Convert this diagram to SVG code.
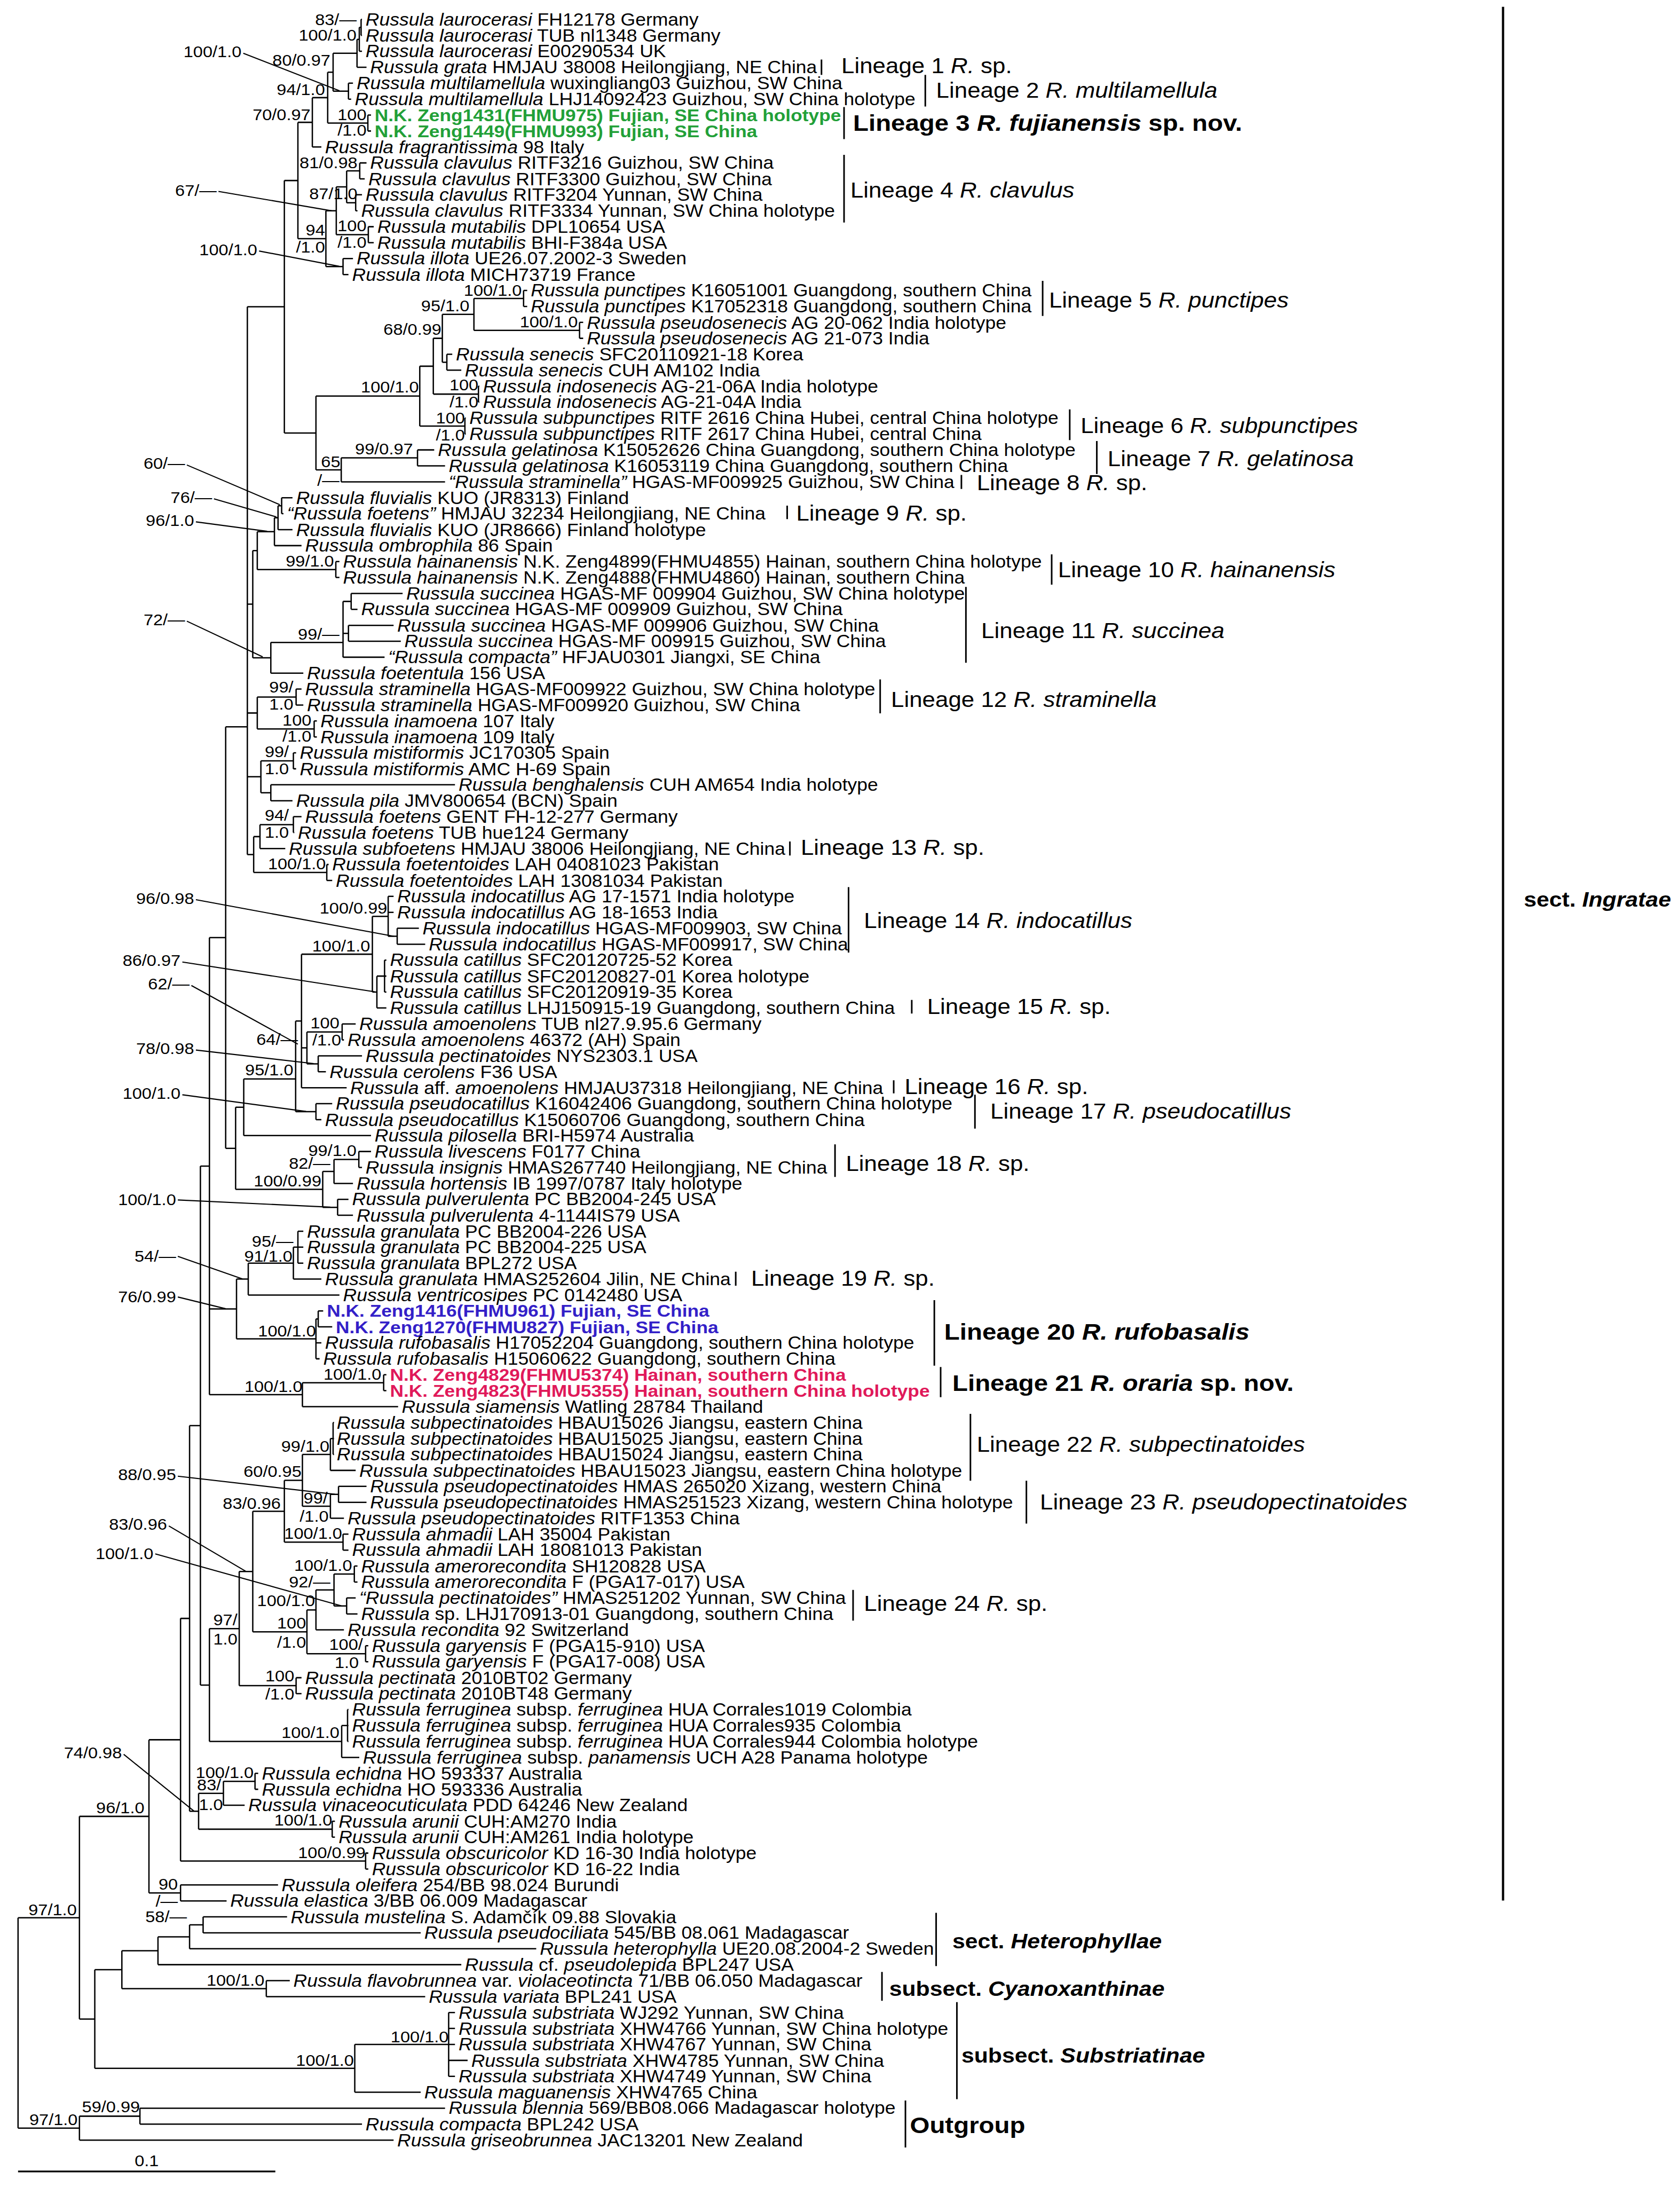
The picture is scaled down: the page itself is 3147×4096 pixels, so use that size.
<svg xmlns="http://www.w3.org/2000/svg" width="3147" height="4096" viewBox="0 0 3147 4096">
<style>
text{font-family:"Liberation Sans",Arial,sans-serif;fill:#000}
.lf{font-size:38.2px}
.i{font-style:italic}
.s{font-size:35px;text-anchor:end}
.ln{font-size:47.2px}
.lb{font-size:51px;font-weight:bold}
.sc{font-size:46px;font-weight:bold}
.cg{font-size:38px;font-weight:bold;fill:#22a038}
.cb{font-size:38px;font-weight:bold;fill:#3320c8}
.cp{font-size:38px;font-weight:bold;fill:#e0195a}
.br{fill:none;stroke:#000;stroke-width:3}
.pt{fill:none;stroke:#000;stroke-width:2.5}
.bar{fill:none;stroke:#000;stroke-width:3.5}
</style>
<rect width="3147" height="4096" fill="#fff"/>
<g transform="scale(0.8455)">
<g id="connectors" class="br">
<path d="M800,43V78.3M800,43H802M800,78.3H802M796,60.7V113.6M796,60.7H800M796,113.6H802M791,87.2V149M791,87.2H796M791,149H812M772,184.3V219.6M772,184.3H782M772,219.6H778M738,118.1V202M738,118.1H791M738,202H772M815,254.9V290.2M815,254.9H822M815,290.2H822M726,160V272.6M726,160H738M726,272.6H815M692,216.3V325.6M692,216.3H726M692,325.6H712M797,360.9V396.2M797,360.9H812M797,396.2H808M788,431.5V466.8M788,431.5H802M788,466.8H792M768,378.6V449.2M768,378.6H797M768,449.2H788M816,502.2V537.5M816,502.2H828M816,537.5H828M745,413.9V519.9M745,413.9H768M745,519.9H816M760,572.8V608.1M760,572.8H782M760,608.1H772M722,466.9V590.5M722,466.9H745M722,590.5H760M660,271V528.7M660,271H692M660,528.7H722"/>
<path d="M1160,643.4V678.8M1160,643.4H1168M1160,678.8H1168M1284,714.1V749.4M1284,714.1H1292M1284,749.4H1292M1050,661.1V731.8M1050,661.1H1160M1050,731.8H1284M990,784.7V820M990,784.7H1002M990,820H1022M980,696.4V802.4M980,696.4H1050M980,802.4H990M1060,855.4V890.7M1060,855.4H1062M1060,890.7H1062M960,749.4V873M960,749.4H980M960,873H1060M1030,926V961.3M1030,926H1032M1030,961.3H1032M930,811.2V943.7M930,811.2H960M930,943.7H1030M925,996.6V1032M925,996.6H962M925,1032H986M756,1014.3V1067.3M756,1014.3H925M756,1067.3H986M700,877.4V1040.8M700,877.4H930M700,1040.8H756M630,399.9V959.1M630,399.9H660M630,959.1H700"/>
<path d="M548,679.5V1892.9M548,679.5H630M548,1338.3H560M548,1579.4H570M548,1720.7H578M548,1892.9H562M624,1102.6V1137.9M624,1102.6H648M624,1137.9H628M616,1120.3V1173.2M616,1120.3H624M616,1173.2H648M608,1146.8V1208.6M608,1146.8H616M608,1208.6H668M744,1243.9V1279.2M744,1243.9H752M744,1279.2H752M570,1177.7V1261.6M570,1177.7H608M570,1261.6H744M778,1314.5V1349.8M778,1314.5H892M778,1349.8H792M772,1385.2V1420.5M772,1385.2H872M772,1420.5H888M760,1332.2V1455.8M760,1332.2H778M760,1402.9H772M760,1455.8H852M600,1423V1491.1M600,1423H760M600,1491.1H672M560,1219.6V1457M560,1219.6H570M560,1457H600M656,1526.4V1561.8M656,1526.4H668M656,1561.8H672M696,1597.1V1632.4M696,1597.1H702M696,1632.4H702M570,1544.1V1614.8M570,1544.1H656M570,1614.8H696M650,1667.7V1703M650,1667.7H656M650,1703H656M600,1738.4V1773.7M600,1738.4H1008M600,1773.7H648M578,1685.4V1756M578,1685.4H650M578,1756H600M650,1809V1844.3M650,1809H668M650,1844.3H652M576,1826.7V1879.6M576,1826.7H650M576,1879.6H632M724,1915V1950.3M724,1915H728M724,1950.3H736M562,1853.2V1932.6M562,1853.2H576M562,1932.6H724"/>
<path d="M500,1610V2543.7M500,1610H548M500,2543.7H522M880,2056.2V2091.6M880,2056.2H928M880,2091.6H942M860,1985.6V2073.9M860,1985.6H872M860,2020.9H872M860,2073.9H880M852,2126.9V2197.5M852,2126.9H856M852,2162.2H856M852,2197.5H856M835,2162.2V2232.8M835,2162.2H852M835,2232.8H856M825,2029.8V2197.5M825,2029.8H860M825,2197.5H835M758,2268.2V2303.5M758,2268.2H788M758,2303.5H762M705,2338.8V2374.1M705,2338.8H802M705,2374.1H722M680,2285.9V2356.5M680,2285.9H758M680,2356.5H705M668,2113.7V2409.4M668,2113.7H825M668,2321.2H680M668,2409.4H768M700,2444.8V2480.1M700,2444.8H736M700,2480.1H712M655,2261.6V2462.5M655,2261.6H668M655,2462.5H700M540,2390V2515.4M540,2390H655M540,2515.4H822M795,2550.7V2586M795,2550.7H822M795,2586H802M740,2568.4V2621.4M740,2568.4H795M740,2621.4H782M748,2656.7V2692M748,2656.7H772M748,2692H782M715,2594.9V2674.4M715,2594.9H740M715,2674.4H748M522,2452.7V2634.6M522,2452.7H540M522,2634.6H715"/>
<path d="M660,2727.3V2798M660,2727.3H672M660,2762.6H672M660,2798H672M650,2762.6V2833.3M650,2762.6H660M650,2833.3H712M550,2798V2868.6M550,2798H650M550,2868.6H752M705,2903.9V2939.2M705,2903.9H716M705,2939.2H736M700,2921.6V3009.9M700,2921.6H705M700,2974.6H712M700,3009.9H708M524,2833.3V2965.8M524,2833.3H550M524,2965.8H700M850,3045.2V3080.5M850,3045.2H856M850,3080.5H856M670,3062.9V3115.8M670,3062.9H850M670,3115.8H882M464,2076.9V3089.3M464,2076.9H500M464,2899.5H524M464,3089.3H670"/>
<path d="M738,3151.2V3221.8M738,3151.2H740M738,3186.5H740M738,3221.8H740M732,3186.5V3257.1M732,3186.5H738M732,3257.1H788M750,3292.4V3327.8M750,3292.4H812M750,3327.8H812M732,3310.1V3363.1M732,3310.1H750M732,3363.1H762M670,3221.8V3336.6M670,3221.8H732M670,3336.6H732M760,3398.4V3433.7M760,3398.4H772M760,3433.7H772M630,3279.2V3416M630,3279.2H670M630,3416H760M785,3469V3504.4M785,3469H792M785,3504.4H792M768,3539.7V3575M768,3539.7H788M768,3575H792M740,3486.7V3557.4M740,3486.7H785M740,3557.4H768M700,3522V3610.3M700,3522H740M700,3610.3H762M810,3645.6V3681M810,3645.6H816M810,3681H816M680,3566.2V3663.3M680,3566.2H700M680,3663.3H810M560,3347.6V3614.7M560,3347.6H630M560,3614.7H680M656,3716.3V3751.6M656,3716.3H668M656,3751.6H668M530,3481.2V3734M530,3481.2H560M530,3734H656M770,3786.9V3857.6M770,3786.9H772M770,3822.2H772M770,3857.6H772M757,3822.2V3892.9M757,3822.2H770M757,3892.9H796M464,3607.6V3857.6M464,3607.6H530M464,3857.6H757M444,2583.1V3732.6M444,2583.1H464M444,3732.6H464"/>
<path d="M565,3928.2V3963.5M565,3928.2H572M565,3963.5H572M495,3945.9V3998.8M495,3945.9H565M495,3998.8H542M736,4034.2V4069.5M736,4034.2H742M736,4069.5H742M440,3972.4V4051.9M440,3972.4H495M440,4051.9H736M420,3157.9V4012.1M420,3157.9H444M420,4012.1H440M810,4104.8V4140.1M810,4104.8H816M810,4140.1H816M400,3585V4122.5M400,3585H420M400,4122.5H810M400,4175.4V4210.8M400,4175.4H616M400,4210.8H502M330,3853.8V4193.1M330,3853.8H400M330,4193.1H400"/>
<path d="M450,4246.1V4281.4M450,4246.1H636M450,4281.4H932M420,4263.8V4316.7M420,4263.8H450M420,4316.7H1188M350,4290.3V4352M350,4290.3H420M350,4352H1022M590,4387.4V4422.7M590,4387.4H642M590,4422.7H942M270,4321.2V4405M270,4321.2H350M270,4405H590M994,4458V4599.3M994,4458H1008M994,4493.3H1008M994,4528.6H1008M994,4564H1036M994,4599.3H1008M786,4528.6V4634.6M786,4528.6H994M786,4634.6H932M210,4363.1V4581.6M210,4363.1H270M210,4581.6H786M176,4023.5V4472.4M176,4023.5H330M176,4472.4H210M310,4669.9V4705.2M310,4669.9H986M310,4705.2H802M176,4687.6V4740.6M176,4687.6H310M176,4740.6H872M40,4248V4714.1M40,4248H176M40,4714.1H176"/>
</g>
<g id="pointers" class="pt">
<path d="M539,118L752,201M484,424L735,467M574,556L752,590M414,1030L620,1118M474,1105L612,1145M434,1156L592,1177M414,1376L582,1455M434,1993L872,2074M404,2131L830,2197M424,2183L660,2313M434,2326L695,2356M404,2425L678,2462M394,2658L732,2674M394,2783L537,2833M394,2873L500,2899M394,3270L742,3310M374,3380L545,3481M344,3442L756,3557M274,3886L430,4012"/>
</g>
<g id="lineage-bars" class="bar">
<path d="M1820,132V166M2050,166V236M1870,237V308M1870,343V493M2310,622V700M2370,907V975M2430,977V1050M2130,1052V1083M1744,1120V1150M2330,1228V1295M2140,1300V1468M1950,1505V1580M1750,1864V1895M1880,1965V2110M2020,2215V2245M1980,2393V2422M2160,2425V2500M1850,2535V2607M1630,2817V2848M2070,2880V3025M2084,3028V3095M2150,3132V3280M2274,3280V3375M1890,3522V3590M2074,4237V4355M1954,4368V4432M2120,4435V4650M2006,4653V4757"/>
<path d="M3330,15V4210" stroke-width="5"/>
</g>
<g id="scale-bar">
<path d="M40,4810H610" stroke="#000" stroke-width="4"/>
<text class="s" style="text-anchor:middle" transform="matrix(1.1 0 0 1 325 4798)">0.1</text>
</g>
<g id="support-values">
<text class="s" transform="matrix(1.1 0 0 1 790 55)">83/—</text>
<text class="s" transform="matrix(1.1 0 0 1 790 90)">100/1.0</text>
<text class="s" transform="matrix(1.1 0 0 1 535 127)">100/1.0</text>
<text class="s" transform="matrix(1.1 0 0 1 732 145)">80/0.97</text>
<text class="s" transform="matrix(1.1 0 0 1 720 210)">94/1.0</text>
<text class="s" transform="matrix(1.1 0 0 1 688 266)">70/0.97</text>
<text class="s" transform="matrix(1.1 0 0 1 812 266)">100</text>
<text class="s" transform="matrix(1.1 0 0 1 812 301)">/1.0</text>
<text class="s" transform="matrix(1.1 0 0 1 792 372)">81/0.98</text>
<text class="s" transform="matrix(1.1 0 0 1 792 441)">87/1.0</text>
<text class="s" transform="matrix(1.1 0 0 1 480 434)">67/—</text>
<text class="s" transform="matrix(1.1 0 0 1 812 512)">100</text>
<text class="s" transform="matrix(1.1 0 0 1 812 549)">/1.0</text>
<text class="s" transform="matrix(1.1 0 0 1 720 522)">94</text>
<text class="s" transform="matrix(1.1 0 0 1 720 560)">/1.0</text>
<text class="s" transform="matrix(1.1 0 0 1 570 565)">100/1.0</text>
<text class="s" transform="matrix(1.1 0 0 1 1156 655)">100/1.0</text>
<text class="s" transform="matrix(1.1 0 0 1 1040 689)">95/1.0</text>
<text class="s" transform="matrix(1.1 0 0 1 1280 725)">100/1.0</text>
<text class="s" transform="matrix(1.1 0 0 1 978 742)">68/0.99</text>
<text class="s" transform="matrix(1.1 0 0 1 1060 865)">100</text>
<text class="s" transform="matrix(1.1 0 0 1 1060 902)">/1.0</text>
<text class="s" transform="matrix(1.1 0 0 1 928 869)">100/1.0</text>
<text class="s" transform="matrix(1.1 0 0 1 1030 938)">100</text>
<text class="s" transform="matrix(1.1 0 0 1 1030 976)">/1.0</text>
<text class="s" transform="matrix(1.1 0 0 1 915 1007)">99/0.97</text>
<text class="s" transform="matrix(1.1 0 0 1 754 1035)">65</text>
<text class="s" transform="matrix(1.1 0 0 1 752 1076)">/—</text>
<text class="s" transform="matrix(1.1 0 0 1 410 1039)">60/—</text>
<text class="s" transform="matrix(1.1 0 0 1 470 1114)">76/—</text>
<text class="s" transform="matrix(1.1 0 0 1 430 1165)">96/1.0</text>
<text class="s" transform="matrix(1.1 0 0 1 740 1255)">99/1.0</text>
<text class="s" transform="matrix(1.1 0 0 1 410 1385)">72/—</text>
<text class="s" transform="matrix(1.1 0 0 1 752 1417)">99/—</text>
<text class="s" transform="matrix(1.1 0 0 1 650 1534)">99/</text>
<text class="s" transform="matrix(1.1 0 0 1 650 1572)">1.0</text>
<text class="s" transform="matrix(1.1 0 0 1 690 1607)">100</text>
<text class="s" transform="matrix(1.1 0 0 1 690 1643)">/1.0</text>
<text class="s" transform="matrix(1.1 0 0 1 640 1677)">99/</text>
<text class="s" transform="matrix(1.1 0 0 1 640 1715)">1.0</text>
<text class="s" transform="matrix(1.1 0 0 1 640 1818)">94/</text>
<text class="s" transform="matrix(1.1 0 0 1 640 1856)">1.0</text>
<text class="s" transform="matrix(1.1 0 0 1 722 1925)">100/1.0</text>
<text class="s" transform="matrix(1.1 0 0 1 430 2002)">96/0.98</text>
<text class="s" transform="matrix(1.1 0 0 1 858 2024)">100/0.99</text>
<text class="s" transform="matrix(1.1 0 0 1 820 2108)">100/1.0</text>
<text class="s" transform="matrix(1.1 0 0 1 400 2140)">86/0.97</text>
<text class="s" transform="matrix(1.1 0 0 1 420 2192)">62/—</text>
<text class="s" transform="matrix(1.1 0 0 1 752 2278)">100</text>
<text class="s" transform="matrix(1.1 0 0 1 756 2316)">/1.0</text>
<text class="s" transform="matrix(1.1 0 0 1 660 2315)">64/—</text>
<text class="s" transform="matrix(1.1 0 0 1 430 2335)">78/0.98</text>
<text class="s" transform="matrix(1.1 0 0 1 650 2382)">95/1.0</text>
<text class="s" transform="matrix(1.1 0 0 1 400 2434)">100/1.0</text>
<text class="s" transform="matrix(1.1 0 0 1 790 2561)">99/1.0</text>
<text class="s" transform="matrix(1.1 0 0 1 732 2589)">82/—</text>
<text class="s" transform="matrix(1.1 0 0 1 712 2628)">100/0.99</text>
<text class="s" transform="matrix(1.1 0 0 1 390 2670)">100/1.0</text>
<text class="s" transform="matrix(1.1 0 0 1 650 2762)">95/—</text>
<text class="s" transform="matrix(1.1 0 0 1 648 2795)">91/1.0</text>
<text class="s" transform="matrix(1.1 0 0 1 390 2795)">54/—</text>
<text class="s" transform="matrix(1.1 0 0 1 390 2885)">76/0.99</text>
<text class="s" transform="matrix(1.1 0 0 1 700 2960)">100/1.0</text>
<text class="s" transform="matrix(1.1 0 0 1 845 3056)">100/1.0</text>
<text class="s" transform="matrix(1.1 0 0 1 670 3083)">100/1.0</text>
<text class="s" transform="matrix(1.1 0 0 1 730 3216)">99/1.0</text>
<text class="s" transform="matrix(1.1 0 0 1 668 3272)">60/0.95</text>
<text class="s" transform="matrix(1.1 0 0 1 390 3279)">88/0.95</text>
<text class="s" transform="matrix(1.1 0 0 1 726 3330)">99/</text>
<text class="s" transform="matrix(1.1 0 0 1 728 3371)">/1.0</text>
<text class="s" transform="matrix(1.1 0 0 1 622 3342)">83/0.96</text>
<text class="s" transform="matrix(1.1 0 0 1 370 3389)">83/0.96</text>
<text class="s" transform="matrix(1.1 0 0 1 758 3409)">100/1.0</text>
<text class="s" transform="matrix(1.1 0 0 1 340 3454)">100/1.0</text>
<text class="s" transform="matrix(1.1 0 0 1 780 3480)">100/1.0</text>
<text class="s" transform="matrix(1.1 0 0 1 732 3516)">92/—</text>
<text class="s" transform="matrix(1.1 0 0 1 698 3558)">100/1.0</text>
<text class="s" transform="matrix(1.1 0 0 1 678 3607)">100</text>
<text class="s" transform="matrix(1.1 0 0 1 678 3650)">/1.0</text>
<text class="s" transform="matrix(1.1 0 0 1 804 3655)">100/</text>
<text class="s" transform="matrix(1.1 0 0 1 795 3695)">1.0</text>
<text class="s" transform="matrix(1.1 0 0 1 526 3600)">97/</text>
<text class="s" transform="matrix(1.1 0 0 1 526 3643)">1.0</text>
<text class="s" transform="matrix(1.1 0 0 1 652 3725)">100</text>
<text class="s" transform="matrix(1.1 0 0 1 652 3765)">/1.0</text>
<text class="s" transform="matrix(1.1 0 0 1 752 3850)">100/1.0</text>
<text class="s" transform="matrix(1.1 0 0 1 270 3895)">74/0.98</text>
<text class="s" transform="matrix(1.1 0 0 1 562 3938)">100/1.0</text>
<text class="s" transform="matrix(1.1 0 0 1 490 3966)">83/</text>
<text class="s" transform="matrix(1.1 0 0 1 494 4010)">1.0</text>
<text class="s" transform="matrix(1.1 0 0 1 320 4016)">96/1.0</text>
<text class="s" transform="matrix(1.1 0 0 1 736 4044)">100/1.0</text>
<text class="s" transform="matrix(1.1 0 0 1 810 4116)">100/0.99</text>
<text class="s" transform="matrix(1.1 0 0 1 394 4186)">90</text>
<text class="s" transform="matrix(1.1 0 0 1 394 4224)">/—</text>
<text class="s" transform="matrix(1.1 0 0 1 170 4242)">97/1.0</text>
<text class="s" transform="matrix(1.1 0 0 1 414 4258)">58/—</text>
<text class="s" transform="matrix(1.1 0 0 1 586 4398)">100/1.0</text>
<text class="s" transform="matrix(1.1 0 0 1 994 4524)">100/1.0</text>
<text class="s" transform="matrix(1.1 0 0 1 784 4576)">100/1.0</text>
<text class="s" transform="matrix(1.1 0 0 1 310 4679)">59/0.99</text>
<text class="s" transform="matrix(1.1 0 0 1 172 4707)">97/1.0</text>
</g>
<g id="leaves">
<g id="leaf-1"><text class="lf" transform="matrix(1.1 0 0 1 810 57)"><tspan class="i">Russula laurocerasi</tspan> FH12178 Germany</text></g>
<g id="leaf-2"><text class="lf" transform="matrix(1.1 0 0 1 810 92)"><tspan class="i">Russula laurocerasi</tspan> TUB nl1348 Germany</text></g>
<g id="leaf-3"><text class="lf" transform="matrix(1.1 0 0 1 810 127)"><tspan class="i">Russula laurocerasi</tspan> E00290534 UK</text></g>
<g id="leaf-4"><text class="lf" transform="matrix(1.1 0 0 1 820 162)"><tspan class="i">Russula grata</tspan> HMJAU 38008 Heilongjiang, NE China</text></g>
<g id="leaf-5"><text class="lf" transform="matrix(1.1 0 0 1 790 198)"><tspan class="i">Russula multilamellula</tspan> wuxingliang03 Guizhou, SW China</text></g>
<g id="leaf-6"><text class="lf" transform="matrix(1.1 0 0 1 786 233)"><tspan class="i">Russula multilamellula</tspan> LHJ14092423 Guizhou, SW China holotype</text></g>
<g id="leaf-7"><text class="cg" transform="matrix(1.1 0 0 1 830 268)">N.K. Zeng1431(FHMU975) Fujian, SE China holotype</text></g>
<g id="leaf-8"><text class="cg" transform="matrix(1.1 0 0 1 830 304)">N.K. Zeng1449(FHMU993) Fujian, SE China</text></g>
<g id="leaf-9"><text class="lf" transform="matrix(1.1 0 0 1 720 339)"><tspan class="i">Russula fragrantissima</tspan> 98 Italy</text></g>
<g id="leaf-10"><text class="lf" transform="matrix(1.1 0 0 1 820 374)"><tspan class="i">Russula clavulus</tspan> RITF3216 Guizhou, SW China</text></g>
<g id="leaf-11"><text class="lf" transform="matrix(1.1 0 0 1 816 410)"><tspan class="i">Russula clavulus</tspan> RITF3300 Guizhou, SW China</text></g>
<g id="leaf-12"><text class="lf" transform="matrix(1.1 0 0 1 810 445)"><tspan class="i">Russula clavulus</tspan> RITF3204 Yunnan, SW China</text></g>
<g id="leaf-13"><text class="lf" transform="matrix(1.1 0 0 1 800 480)"><tspan class="i">Russula clavulus</tspan> RITF3334 Yunnan, SW China holotype</text></g>
<g id="leaf-14"><text class="lf" transform="matrix(1.1 0 0 1 836 516)"><tspan class="i">Russula mutabilis</tspan> DPL10654 USA</text></g>
<g id="leaf-15"><text class="lf" transform="matrix(1.1 0 0 1 836 551)"><tspan class="i">Russula mutabilis</tspan> BHI-F384a USA</text></g>
<g id="leaf-16"><text class="lf" transform="matrix(1.1 0 0 1 790 586)"><tspan class="i">Russula illota</tspan> UE26.07.2002-3 Sweden</text></g>
<g id="leaf-17"><text class="lf" transform="matrix(1.1 0 0 1 780 622)"><tspan class="i">Russula illota</tspan> MICH73719 France</text></g>
<g id="leaf-18"><text class="lf" transform="matrix(1.1 0 0 1 1176 657)"><tspan class="i">Russula punctipes</tspan> K16051001 Guangdong, southern China</text></g>
<g id="leaf-19"><text class="lf" transform="matrix(1.1 0 0 1 1176 692)"><tspan class="i">Russula punctipes</tspan> K17052318 Guangdong, southern China</text></g>
<g id="leaf-20"><text class="lf" transform="matrix(1.1 0 0 1 1300 728)"><tspan class="i">Russula pseudosenecis</tspan> AG 20-062 India holotype</text></g>
<g id="leaf-21"><text class="lf" transform="matrix(1.1 0 0 1 1300 763)"><tspan class="i">Russula pseudosenecis</tspan> AG 21-073 India</text></g>
<g id="leaf-22"><text class="lf" transform="matrix(1.1 0 0 1 1010 798)"><tspan class="i">Russula senecis</tspan> SFC20110921-18 Korea</text></g>
<g id="leaf-23"><text class="lf" transform="matrix(1.1 0 0 1 1030 834)"><tspan class="i">Russula senecis</tspan> CUH AM102 India</text></g>
<g id="leaf-24"><text class="lf" transform="matrix(1.1 0 0 1 1070 869)"><tspan class="i">Russula indosenecis</tspan> AG-21-06A India holotype</text></g>
<g id="leaf-25"><text class="lf" transform="matrix(1.1 0 0 1 1070 904)"><tspan class="i">Russula indosenecis</tspan> AG-21-04A India</text></g>
<g id="leaf-26"><text class="lf" transform="matrix(1.1 0 0 1 1040 939)"><tspan class="i">Russula subpunctipes</tspan> RITF 2616 China Hubei, central China holotype</text></g>
<g id="leaf-27"><text class="lf" transform="matrix(1.1 0 0 1 1040 975)"><tspan class="i">Russula subpunctipes</tspan> RITF 2617 China Hubei, central China</text></g>
<g id="leaf-28"><text class="lf" transform="matrix(1.1 0 0 1 970 1010)"><tspan class="i">Russula gelatinosa</tspan> K15052626 China Guangdong, southern China holotype</text></g>
<g id="leaf-29"><text class="lf" transform="matrix(1.1 0 0 1 994 1045)"><tspan class="i">Russula gelatinosa</tspan> K16053119 China Guangdong, southern China</text></g>
<g id="leaf-30"><text class="lf" transform="matrix(1.1 0 0 1 994 1081)"><tspan class="i">“Russula straminella”</tspan> HGAS-MF009925 Guizhou, SW China</text></g>
<g id="leaf-31"><text class="lf" transform="matrix(1.1 0 0 1 656 1116)"><tspan class="i">Russula fluvialis</tspan> KUO (JR8313) Finland</text></g>
<g id="leaf-32"><text class="lf" transform="matrix(1.1 0 0 1 636 1151)"><tspan class="i">“Russula foetens”</tspan> HMJAU 32234 Heilongjiang, NE China</text></g>
<g id="leaf-33"><text class="lf" transform="matrix(1.1 0 0 1 656 1187)"><tspan class="i">Russula fluvialis</tspan> KUO (JR8666) Finland holotype</text></g>
<g id="leaf-34"><text class="lf" transform="matrix(1.1 0 0 1 676 1222)"><tspan class="i">Russula ombrophila</tspan> 86 Spain</text></g>
<g id="leaf-35"><text class="lf" transform="matrix(1.1 0 0 1 760 1257)"><tspan class="i">Russula hainanensis</tspan> N.K. Zeng4899(FHMU4855) Hainan, southern China holotype</text></g>
<g id="leaf-36"><text class="lf" transform="matrix(1.1 0 0 1 760 1293)"><tspan class="i">Russula hainanensis</tspan> N.K. Zeng4888(FHMU4860) Hainan, southern China</text></g>
<g id="leaf-37"><text class="lf" transform="matrix(1.1 0 0 1 900 1328)"><tspan class="i">Russula succinea</tspan> HGAS-MF 009904 Guizhou, SW China holotype</text></g>
<g id="leaf-38"><text class="lf" transform="matrix(1.1 0 0 1 800 1363)"><tspan class="i">Russula succinea</tspan> HGAS-MF 009909 Guizhou, SW China</text></g>
<g id="leaf-39"><text class="lf" transform="matrix(1.1 0 0 1 880 1399)"><tspan class="i">Russula succinea</tspan> HGAS-MF 009906 Guizhou, SW China</text></g>
<g id="leaf-40"><text class="lf" transform="matrix(1.1 0 0 1 896 1434)"><tspan class="i">Russula succinea</tspan> HGAS-MF 009915 Guizhou, SW China</text></g>
<g id="leaf-41"><text class="lf" transform="matrix(1.1 0 0 1 860 1469)"><tspan class="i">“Russula compacta”</tspan> HFJAU0301 Jiangxi, SE China</text></g>
<g id="leaf-42"><text class="lf" transform="matrix(1.1 0 0 1 680 1505)"><tspan class="i">Russula foetentula</tspan> 156 USA</text></g>
<g id="leaf-43"><text class="lf" transform="matrix(1.1 0 0 1 676 1540)"><tspan class="i">Russula straminella</tspan> HGAS-MF009922 Guizhou, SW China holotype</text></g>
<g id="leaf-44"><text class="lf" transform="matrix(1.1 0 0 1 680 1575)"><tspan class="i">Russula straminella</tspan> HGAS-MF009920 Guizhou, SW China</text></g>
<g id="leaf-45"><text class="lf" transform="matrix(1.1 0 0 1 710 1611)"><tspan class="i">Russula inamoena</tspan> 107 Italy</text></g>
<g id="leaf-46"><text class="lf" transform="matrix(1.1 0 0 1 710 1646)"><tspan class="i">Russula inamoena</tspan> 109 Italy</text></g>
<g id="leaf-47"><text class="lf" transform="matrix(1.1 0 0 1 664 1681)"><tspan class="i">Russula mistiformis</tspan> JC170305 Spain</text></g>
<g id="leaf-48"><text class="lf" transform="matrix(1.1 0 0 1 664 1717)"><tspan class="i">Russula mistiformis</tspan> AMC H-69 Spain</text></g>
<g id="leaf-49"><text class="lf" transform="matrix(1.1 0 0 1 1016 1752)"><tspan class="i">Russula benghalensis</tspan> CUH AM654 India holotype</text></g>
<g id="leaf-50"><text class="lf" transform="matrix(1.1 0 0 1 656 1787)"><tspan class="i">Russula pila</tspan> JMV800654 (BCN) Spain</text></g>
<g id="leaf-51"><text class="lf" transform="matrix(1.1 0 0 1 676 1823)"><tspan class="i">Russula foetens</tspan> GENT FH-12-277 Germany</text></g>
<g id="leaf-52"><text class="lf" transform="matrix(1.1 0 0 1 660 1858)"><tspan class="i">Russula foetens</tspan> TUB hue124 Germany</text></g>
<g id="leaf-53"><text class="lf" transform="matrix(1.1 0 0 1 640 1893)"><tspan class="i">Russula subfoetens</tspan> HMJAU 38006 Heilongjiang, NE China</text></g>
<g id="leaf-54"><text class="lf" transform="matrix(1.1 0 0 1 736 1928)"><tspan class="i">Russula foetentoides</tspan> LAH 04081023 Pakistan</text></g>
<g id="leaf-55"><text class="lf" transform="matrix(1.1 0 0 1 744 1964)"><tspan class="i">Russula foetentoides</tspan> LAH 13081034 Pakistan</text></g>
<g id="leaf-56"><text class="lf" transform="matrix(1.1 0 0 1 880 1999)"><tspan class="i">Russula indocatillus</tspan> AG 17-1571 India holotype</text></g>
<g id="leaf-57"><text class="lf" transform="matrix(1.1 0 0 1 880 2034)"><tspan class="i">Russula indocatillus</tspan> AG 18-1653 India</text></g>
<g id="leaf-58"><text class="lf" transform="matrix(1.1 0 0 1 936 2070)"><tspan class="i">Russula indocatillus</tspan> HGAS-MF009903, SW China</text></g>
<g id="leaf-59"><text class="lf" transform="matrix(1.1 0 0 1 950 2105)"><tspan class="i">Russula indocatillus</tspan> HGAS-MF009917, SW China</text></g>
<g id="leaf-60"><text class="lf" transform="matrix(1.1 0 0 1 864 2140)"><tspan class="i">Russula catillus</tspan> SFC20120725-52 Korea</text></g>
<g id="leaf-61"><text class="lf" transform="matrix(1.1 0 0 1 864 2176)"><tspan class="i">Russula catillus</tspan> SFC20120827-01 Korea holotype</text></g>
<g id="leaf-62"><text class="lf" transform="matrix(1.1 0 0 1 864 2211)"><tspan class="i">Russula catillus</tspan> SFC20120919-35 Korea</text></g>
<g id="leaf-63"><text class="lf" transform="matrix(1.1 0 0 1 864 2246)"><tspan class="i">Russula catillus</tspan> LHJ150915-19 Guangdong, southern China</text></g>
<g id="leaf-64"><text class="lf" transform="matrix(1.1 0 0 1 796 2282)"><tspan class="i">Russula amoenolens</tspan> TUB nl27.9.95.6 Germany</text></g>
<g id="leaf-65"><text class="lf" transform="matrix(1.1 0 0 1 770 2317)"><tspan class="i">Russula amoenolens</tspan> 46372 (AH) Spain</text></g>
<g id="leaf-66"><text class="lf" transform="matrix(1.1 0 0 1 810 2352)"><tspan class="i">Russula pectinatoides</tspan> NYS2303.1 USA</text></g>
<g id="leaf-67"><text class="lf" transform="matrix(1.1 0 0 1 730 2388)"><tspan class="i">Russula cerolens</tspan> F36 USA</text></g>
<g id="leaf-68"><text class="lf" transform="matrix(1.1 0 0 1 776 2423)"><tspan class="i">Russula</tspan> aff. <tspan class="i">amoenolens</tspan> HMJAU37318 Heilongjiang, NE China</text></g>
<g id="leaf-69"><text class="lf" transform="matrix(1.1 0 0 1 744 2458)"><tspan class="i">Russula pseudocatillus</tspan> K16042406 Guangdong, southern China holotype</text></g>
<g id="leaf-70"><text class="lf" transform="matrix(1.1 0 0 1 720 2494)"><tspan class="i">Russula pseudocatillus</tspan> K15060706 Guangdong, southern China</text></g>
<g id="leaf-71"><text class="lf" transform="matrix(1.1 0 0 1 830 2529)"><tspan class="i">Russula pilosella</tspan> BRI-H5974 Australia</text></g>
<g id="leaf-72"><text class="lf" transform="matrix(1.1 0 0 1 830 2564)"><tspan class="i">Russula livescens</tspan> F0177 China</text></g>
<g id="leaf-73"><text class="lf" transform="matrix(1.1 0 0 1 810 2600)"><tspan class="i">Russula insignis</tspan> HMAS267740 Heilongjiang, NE China</text></g>
<g id="leaf-74"><text class="lf" transform="matrix(1.1 0 0 1 790 2635)"><tspan class="i">Russula hortensis</tspan> IB 1997/0787 Italy holotype</text></g>
<g id="leaf-75"><text class="lf" transform="matrix(1.1 0 0 1 780 2670)"><tspan class="i">Russula pulverulenta</tspan> PC BB2004-245 USA</text></g>
<g id="leaf-76"><text class="lf" transform="matrix(1.1 0 0 1 790 2706)"><tspan class="i">Russula pulverulenta</tspan> 4-1144IS79 USA</text></g>
<g id="leaf-77"><text class="lf" transform="matrix(1.1 0 0 1 680 2741)"><tspan class="i">Russula granulata</tspan> PC BB2004-226 USA</text></g>
<g id="leaf-78"><text class="lf" transform="matrix(1.1 0 0 1 680 2776)"><tspan class="i">Russula granulata</tspan> PC BB2004-225 USA</text></g>
<g id="leaf-79"><text class="lf" transform="matrix(1.1 0 0 1 680 2811)"><tspan class="i">Russula granulata</tspan> BPL272 USA</text></g>
<g id="leaf-80"><text class="lf" transform="matrix(1.1 0 0 1 720 2847)"><tspan class="i">Russula granulata</tspan> HMAS252604 Jilin, NE China</text></g>
<g id="leaf-81"><text class="lf" transform="matrix(1.1 0 0 1 760 2882)"><tspan class="i">Russula ventricosipes</tspan> PC 0142480 USA</text></g>
<g id="leaf-82"><text class="cb" transform="matrix(1.1 0 0 1 724 2917)">N.K. Zeng1416(FHMU961) Fujian, SE China</text></g>
<g id="leaf-83"><text class="cb" transform="matrix(1.1 0 0 1 744 2953)">N.K. Zeng1270(FHMU827) Fujian, SE China</text></g>
<g id="leaf-84"><text class="lf" transform="matrix(1.1 0 0 1 720 2988)"><tspan class="i">Russula rufobasalis</tspan> H17052204 Guangdong, southern China holotype</text></g>
<g id="leaf-85"><text class="lf" transform="matrix(1.1 0 0 1 716 3023)"><tspan class="i">Russula rufobasalis</tspan> H15060622 Guangdong, southern China</text></g>
<g id="leaf-86"><text class="cp" transform="matrix(1.1 0 0 1 864 3059)">N.K. Zeng4829(FHMU5374) Hainan, southern China</text></g>
<g id="leaf-87"><text class="cp" transform="matrix(1.1 0 0 1 864 3094)">N.K. Zeng4823(FHMU5355) Hainan, southern China holotype</text></g>
<g id="leaf-88"><text class="lf" transform="matrix(1.1 0 0 1 890 3129)"><tspan class="i">Russula siamensis</tspan> Watling 28784 Thailand</text></g>
<g id="leaf-89"><text class="lf" transform="matrix(1.1 0 0 1 746 3165)"><tspan class="i">Russula subpectinatoides</tspan> HBAU15026 Jiangsu, eastern China</text></g>
<g id="leaf-90"><text class="lf" transform="matrix(1.1 0 0 1 746 3200)"><tspan class="i">Russula subpectinatoides</tspan> HBAU15025 Jiangsu, eastern China</text></g>
<g id="leaf-91"><text class="lf" transform="matrix(1.1 0 0 1 746 3235)"><tspan class="i">Russula subpectinatoides</tspan> HBAU15024 Jiangsu, eastern China</text></g>
<g id="leaf-92"><text class="lf" transform="matrix(1.1 0 0 1 796 3271)"><tspan class="i">Russula subpectinatoides</tspan> HBAU15023 Jiangsu, eastern China holotype</text></g>
<g id="leaf-93"><text class="lf" transform="matrix(1.1 0 0 1 820 3306)"><tspan class="i">Russula pseudopectinatoides</tspan> HMAS 265020 Xizang, western China</text></g>
<g id="leaf-94"><text class="lf" transform="matrix(1.1 0 0 1 820 3341)"><tspan class="i">Russula pseudopectinatoides</tspan> HMAS251523 Xizang, western China holotype</text></g>
<g id="leaf-95"><text class="lf" transform="matrix(1.1 0 0 1 770 3377)"><tspan class="i">Russula pseudopectinatoides</tspan> RITF1353 China</text></g>
<g id="leaf-96"><text class="lf" transform="matrix(1.1 0 0 1 780 3412)"><tspan class="i">Russula ahmadii</tspan> LAH 35004 Pakistan</text></g>
<g id="leaf-97"><text class="lf" transform="matrix(1.1 0 0 1 780 3447)"><tspan class="i">Russula ahmadii</tspan> LAH 18081013 Pakistan</text></g>
<g id="leaf-98"><text class="lf" transform="matrix(1.1 0 0 1 800 3483)"><tspan class="i">Russula amerorecondita</tspan> SH120828 USA</text></g>
<g id="leaf-99"><text class="lf" transform="matrix(1.1 0 0 1 800 3518)"><tspan class="i">Russula amerorecondita</tspan> F (PGA17-017) USA</text></g>
<g id="leaf-100"><text class="lf" transform="matrix(1.1 0 0 1 796 3553)"><tspan class="i">“Russula pectinatoides”</tspan> HMAS251202 Yunnan, SW China</text></g>
<g id="leaf-101"><text class="lf" transform="matrix(1.1 0 0 1 800 3589)"><tspan class="i">Russula</tspan> sp. LHJ170913-01 Guangdong, southern China</text></g>
<g id="leaf-102"><text class="lf" transform="matrix(1.1 0 0 1 770 3624)"><tspan class="i">Russula recondita</tspan> 92 Switzerland</text></g>
<g id="leaf-103"><text class="lf" transform="matrix(1.1 0 0 1 824 3659)"><tspan class="i">Russula garyensis</tspan> F (PGA15-910) USA</text></g>
<g id="leaf-104"><text class="lf" transform="matrix(1.1 0 0 1 824 3694)"><tspan class="i">Russula garyensis</tspan> F (PGA17-008) USA</text></g>
<g id="leaf-105"><text class="lf" transform="matrix(1.1 0 0 1 676 3730)"><tspan class="i">Russula pectinata</tspan> 2010BT02 Germany</text></g>
<g id="leaf-106"><text class="lf" transform="matrix(1.1 0 0 1 676 3765)"><tspan class="i">Russula pectinata</tspan> 2010BT48 Germany</text></g>
<g id="leaf-107"><text class="lf" transform="matrix(1.1 0 0 1 780 3800)"><tspan class="i">Russula ferruginea</tspan> subsp. <tspan class="i">ferruginea</tspan> HUA Corrales1019 Colombia</text></g>
<g id="leaf-108"><text class="lf" transform="matrix(1.1 0 0 1 780 3836)"><tspan class="i">Russula ferruginea</tspan> subsp. <tspan class="i">ferruginea</tspan> HUA Corrales935 Colombia</text></g>
<g id="leaf-109"><text class="lf" transform="matrix(1.1 0 0 1 780 3871)"><tspan class="i">Russula ferruginea</tspan> subsp. <tspan class="i">ferruginea</tspan> HUA Corrales944 Colombia holotype</text></g>
<g id="leaf-110"><text class="lf" transform="matrix(1.1 0 0 1 804 3906)"><tspan class="i">Russula ferruginea</tspan> subsp. <tspan class="i">panamensis</tspan> UCH A28 Panama holotype</text></g>
<g id="leaf-111"><text class="lf" transform="matrix(1.1 0 0 1 580 3942)"><tspan class="i">Russula echidna</tspan> HO 593337 Australia</text></g>
<g id="leaf-112"><text class="lf" transform="matrix(1.1 0 0 1 580 3977)"><tspan class="i">Russula echidna</tspan> HO 593336 Australia</text></g>
<g id="leaf-113"><text class="lf" transform="matrix(1.1 0 0 1 550 4012)"><tspan class="i">Russula vinaceocuticulata</tspan> PDD 64246 New Zealand</text></g>
<g id="leaf-114"><text class="lf" transform="matrix(1.1 0 0 1 750 4048)"><tspan class="i">Russula arunii</tspan> CUH:AM270 India</text></g>
<g id="leaf-115"><text class="lf" transform="matrix(1.1 0 0 1 750 4083)"><tspan class="i">Russula arunii</tspan> CUH:AM261 India holotype</text></g>
<g id="leaf-116"><text class="lf" transform="matrix(1.1 0 0 1 824 4118)"><tspan class="i">Russula obscuricolor</tspan> KD 16-30 India holotype</text></g>
<g id="leaf-117"><text class="lf" transform="matrix(1.1 0 0 1 824 4154)"><tspan class="i">Russula obscuricolor</tspan> KD 16-22 India</text></g>
<g id="leaf-118"><text class="lf" transform="matrix(1.1 0 0 1 624 4189)"><tspan class="i">Russula oleifera</tspan> 254/BB 98.024 Burundi</text></g>
<g id="leaf-119"><text class="lf" transform="matrix(1.1 0 0 1 510 4224)"><tspan class="i">Russula elastica</tspan> 3/BB 06.009 Madagascar</text></g>
<g id="leaf-120"><text class="lf" transform="matrix(1.1 0 0 1 644 4260)"><tspan class="i">Russula mustelina</tspan> S. Adamčík 09.88 Slovakia</text></g>
<g id="leaf-121"><text class="lf" transform="matrix(1.1 0 0 1 940 4295)"><tspan class="i">Russula pseudociliata</tspan> 545/BB 08.061 Madagascar</text></g>
<g id="leaf-122"><text class="lf" transform="matrix(1.1 0 0 1 1196 4330)"><tspan class="i">Russula heterophylla</tspan> UE20.08.2004-2 Sweden</text></g>
<g id="leaf-123"><text class="lf" transform="matrix(1.1 0 0 1 1030 4366)"><tspan class="i">Russula</tspan> cf. <tspan class="i">pseudolepida</tspan> BPL247 USA</text></g>
<g id="leaf-124"><text class="lf" transform="matrix(1.1 0 0 1 650 4401)"><tspan class="i">Russula flavobrunnea</tspan> var. <tspan class="i">violaceotincta</tspan> 71/BB 06.050 Madagascar</text></g>
<g id="leaf-125"><text class="lf" transform="matrix(1.1 0 0 1 950 4436)"><tspan class="i">Russula variata</tspan> BPL241 USA</text></g>
<g id="leaf-126"><text class="lf" transform="matrix(1.1 0 0 1 1016 4472)"><tspan class="i">Russula substriata</tspan> WJ292 Yunnan, SW China</text></g>
<g id="leaf-127"><text class="lf" transform="matrix(1.1 0 0 1 1016 4507)"><tspan class="i">Russula substriata</tspan> XHW4766 Yunnan, SW China holotype</text></g>
<g id="leaf-128"><text class="lf" transform="matrix(1.1 0 0 1 1016 4542)"><tspan class="i">Russula substriata</tspan> XHW4767 Yunnan, SW China</text></g>
<g id="leaf-129"><text class="lf" transform="matrix(1.1 0 0 1 1044 4578)"><tspan class="i">Russula substriata</tspan> XHW4785 Yunnan, SW China</text></g>
<g id="leaf-130"><text class="lf" transform="matrix(1.1 0 0 1 1016 4613)"><tspan class="i">Russula substriata</tspan> XHW4749 Yunnan, SW China</text></g>
<g id="leaf-131"><text class="lf" transform="matrix(1.1 0 0 1 940 4648)"><tspan class="i">Russula maguanensis</tspan> XHW4765 China</text></g>
<g id="leaf-132"><text class="lf" transform="matrix(1.1 0 0 1 994 4683)"><tspan class="i">Russula blennia</tspan> 569/BB08.066 Madagascar holotype</text></g>
<g id="leaf-133"><text class="lf" transform="matrix(1.1 0 0 1 810 4719)"><tspan class="i">Russula compacta</tspan> BPL242 USA</text></g>
<g id="leaf-134"><text class="lf" transform="matrix(1.1 0 0 1 880 4754)"><tspan class="i">Russula griseobrunnea</tspan> JAC13201 New Zealand</text></g>
</g>
<g id="clade-labels">
<g id="lineage-1"><text class="ln" transform="matrix(1.1 0 0 1 1864 162)">Lineage 1 <tspan class="i">R.</tspan> sp.</text></g>
<g id="lineage-2"><text class="ln" transform="matrix(1.1 0 0 1 2074 216)">Lineage 2 <tspan class="i">R. multilamellula</tspan></text></g>
<g id="lineage-3"><text class="lb" transform="matrix(1.1 0 0 1 1890 290)">Lineage 3 <tspan class="i">R. fujianensis</tspan> sp. nov.</text></g>
<g id="lineage-4"><text class="ln" transform="matrix(1.1 0 0 1 1884 438)">Lineage 4 <tspan class="i">R. clavulus</tspan></text></g>
<g id="lineage-5"><text class="ln" transform="matrix(1.1 0 0 1 2324 681)">Lineage 5 <tspan class="i">R. punctipes</tspan></text></g>
<g id="lineage-6"><text class="ln" transform="matrix(1.1 0 0 1 2394 959)">Lineage 6 <tspan class="i">R. subpunctipes</tspan></text></g>
<g id="lineage-7"><text class="ln" transform="matrix(1.1 0 0 1 2454 1033)">Lineage 7 <tspan class="i">R. gelatinosa</tspan></text></g>
<g id="lineage-8"><text class="ln" transform="matrix(1.1 0 0 1 2164 1086)">Lineage 8 <tspan class="i">R.</tspan> sp.</text></g>
<g id="lineage-9"><text class="ln" transform="matrix(1.1 0 0 1 1764 1153)">Lineage 9 <tspan class="i">R.</tspan> sp.</text></g>
<g id="lineage-10"><text class="ln" transform="matrix(1.1 0 0 1 2344 1279)">Lineage 10 <tspan class="i">R. hainanensis</tspan></text></g>
<g id="lineage-11"><text class="ln" transform="matrix(1.1 0 0 1 2174 1413)">Lineage 11 <tspan class="i">R. succinea</tspan></text></g>
<g id="lineage-12"><text class="ln" transform="matrix(1.1 0 0 1 1974 1566)">Lineage 12 <tspan class="i">R. straminella</tspan></text></g>
<g id="lineage-13"><text class="ln" transform="matrix(1.1 0 0 1 1774 1894)">Lineage 13 <tspan class="i">R.</tspan> sp.</text></g>
<g id="lineage-14"><text class="ln" transform="matrix(1.1 0 0 1 1914 2056)">Lineage 14 <tspan class="i">R. indocatillus</tspan></text></g>
<g id="lineage-15"><text class="ln" transform="matrix(1.1 0 0 1 2054 2246)">Lineage 15 <tspan class="i">R.</tspan> sp.</text></g>
<g id="lineage-16"><text class="ln" transform="matrix(1.1 0 0 1 2004 2423)">Lineage 16 <tspan class="i">R.</tspan> sp.</text></g>
<g id="lineage-17"><text class="ln" transform="matrix(1.1 0 0 1 2194 2478)">Lineage 17 <tspan class="i">R. pseudocatillus</tspan></text></g>
<g id="lineage-18"><text class="ln" transform="matrix(1.1 0 0 1 1874 2594)">Lineage 18 <tspan class="i">R.</tspan> sp.</text></g>
<g id="lineage-19"><text class="ln" transform="matrix(1.1 0 0 1 1664 2848)">Lineage 19 <tspan class="i">R.</tspan> sp.</text></g>
<g id="lineage-20"><text class="lb" transform="matrix(1.1 0 0 1 2092 2968)">Lineage 20 <tspan class="i">R. rufobasalis</tspan></text></g>
<g id="lineage-21"><text class="lb" transform="matrix(1.1 0 0 1 2110 3081)">Lineage 21 <tspan class="i">R. oraria</tspan> sp. nov.</text></g>
<g id="lineage-22"><text class="ln" transform="matrix(1.1 0 0 1 2164 3216)">Lineage 22 <tspan class="i">R. subpectinatoides</tspan></text></g>
<g id="lineage-23"><text class="ln" transform="matrix(1.1 0 0 1 2304 3343)">Lineage 23 <tspan class="i">R. pseudopectinatoides</tspan></text></g>
<g id="lineage-24"><text class="ln" transform="matrix(1.1 0 0 1 1914 3568)">Lineage 24 <tspan class="i">R.</tspan> sp.</text></g>
<g id="sect-heterophyllae"><text class="sc" transform="matrix(1.1 0 0 1 2110 4316)">sect. <tspan class="i">Heterophyllae</tspan></text></g>
<g id="subsect-cyanoxanthinae"><text class="sc" transform="matrix(1.1 0 0 1 1970 4421)">subsect. <tspan class="i">Cyanoxanthinae</tspan></text></g>
<g id="subsect-substriatinae"><text class="sc" transform="matrix(1.1 0 0 1 2130 4569)">subsect. <tspan class="i">Substriatinae</tspan></text></g>
<g id="outgroup"><text class="lb" transform="matrix(1.1 0 0 1 2016 4725)">Outgroup</text></g>
<g id="sect-ingratae"><text class="sc" transform="matrix(1.1 0 0 1 3376 2008)">sect. <tspan class="i">Ingratae</tspan></text></g>
</g>
</g>
</svg>
